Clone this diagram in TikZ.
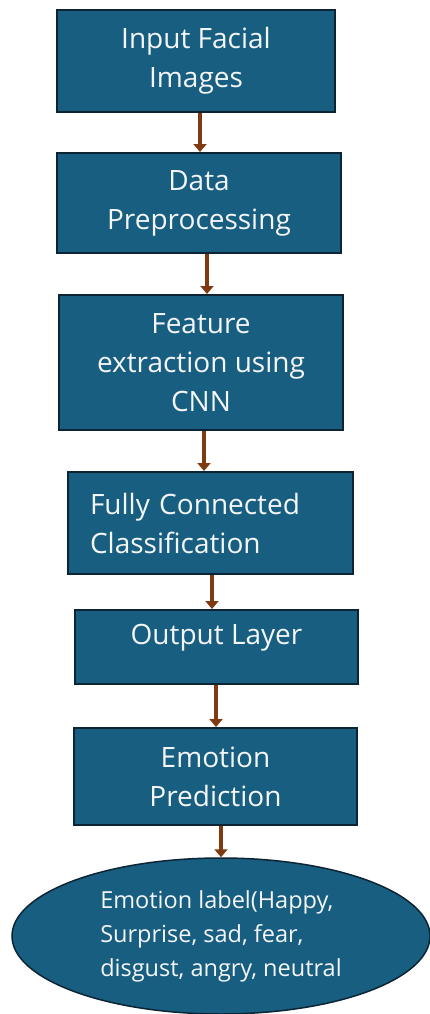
\documentclass[tikz,border=0pt]{standalone}
\usepackage{fontspec}
\setmainfont{Open Sans}
\usetikzlibrary{shapes.geometric,arrows.meta}
\definecolor{boxfill}{RGB}{24,94,128}
\definecolor{boxline}{RGB}{12,36,52}
\definecolor{arrbrown}{RGB}{128,58,18}
\definecolor{txtcol}{RGB}{244,246,248}
\begin{document}
\begin{tikzpicture}[x=1pt,y=-1pt,
  box/.style={draw=boxline, line width=2pt, fill=boxfill, rectangle, inner sep=0pt,
    text=txtcol, font=\fontsize{28}{39}\selectfont, align=center},
  txt/.style={text=txtcol, font=\fontsize{28}{39}\selectfont, inner sep=0pt},
  arr/.style={draw=arrbrown, line width=4.5pt, -{Triangle[width=13pt,length=8pt]}}]
\useasboundingbox (0,0) rectangle (430,1014);
\node[box, minimum width=278pt, minimum height=102pt] (b1) at (196,61) {Input Facial\\Images};
\node[box, minimum width=284pt, minimum height=100pt] (b2) at (199,203) {Data\\Preprocessing};
\node[box, minimum width=284pt, minimum height=135pt] (b3) at (201,362.5) {Feature\\extraction using\\CNN};
\node[box, minimum width=285pt, minimum height=102pt, text width=241pt, inner xsep=22pt, align=left] (b4) at (210.5,523) {Fully Connected\\Classification};
\node[box, minimum width=283pt, minimum height=74pt] (b5) at (216.5,647) {};
\node[txt] (b5t) at ([yshift=9pt]b5.center) {Output Layer};
\node[box, minimum width=283pt, minimum height=97pt] (b6) at (215.5,776.5) {Emotion\\Prediction};
\node[draw=boxline, line width=1.5pt, fill=boxfill, ellipse, inner sep=0pt,
  minimum width=418pt, minimum height=156pt, text=txtcol, align=left,
  font=\fontsize{23.5}{34}\selectfont] (e) at (221,936)
  {Emotion label(Happy,\\Surprise, sad, fear,\\disgust, angry, neutral};
\draw[arr] (b1.south -| 200,0) -- (b2.north -| 200,0);
\draw[arr] (b2.south -| 207,0) -- (b3.north -| 207,0);
\draw[arr] (b3.south -| 204,0) -- (b4.north -| 204,0);
\draw[arr] (b4.south -| 212,0) -- (b5.north -| 212,0);
\draw[arr] (b5.south -| 216,0) -- (b6.north -| 216,0);
\draw[arr] (b6.south -| 221,0) -- (e.north -| 221,0);
\end{tikzpicture}
\end{document}
